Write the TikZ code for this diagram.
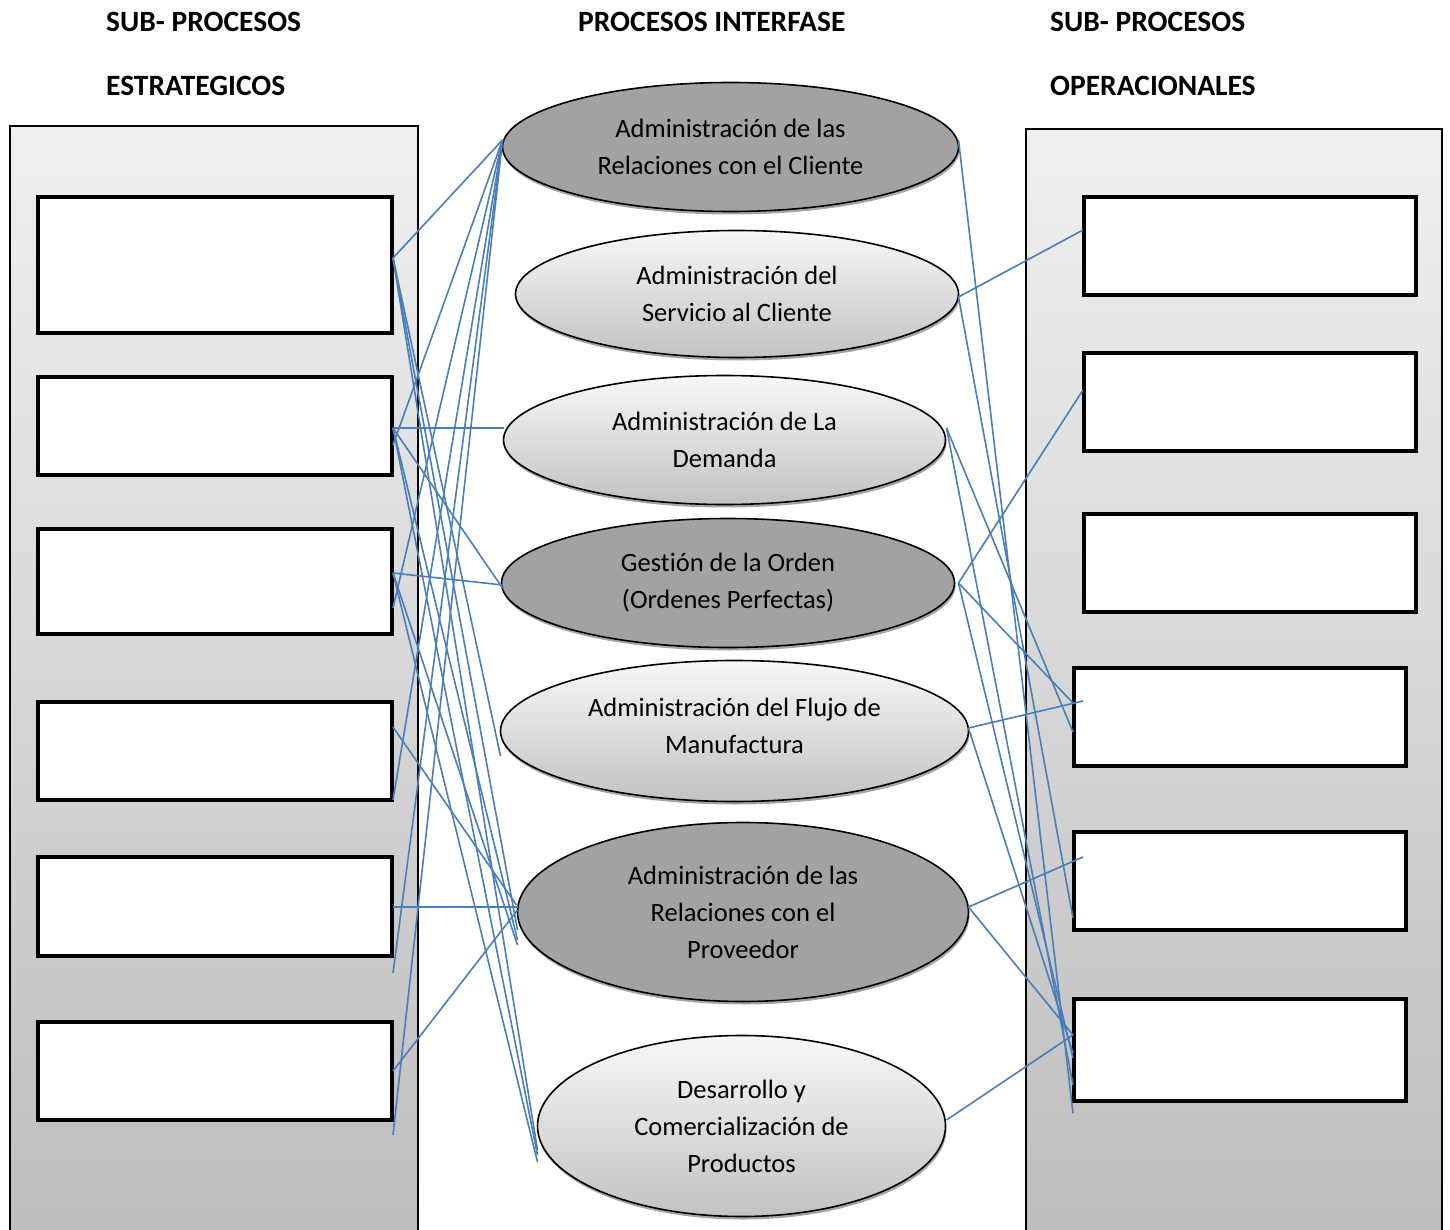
\documentclass[tikz,border=0pt]{standalone}
\usepackage{fontspec}
\setmainfont{Carlito}[Ligatures={NoCommon},RawFeature={-calt}]
\usetikzlibrary{calc,shapes.geometric,shadows}

\definecolor{linkblue}{HTML}{4A7EBB}
\definecolor{darkfill}{HTML}{A2A2A2}

\begin{document}
\begin{tikzpicture}[x=1pt,y=-1pt,
  panel/.style={draw=black,line width=2pt,top color=black!6,bottom color=black!26},
  subbox/.style={draw=black,line width=4.4pt,fill=white,inner sep=0pt,outer sep=0pt},
  proctext/.style={align=center,font=\fontsize{26.5}{37}\selectfont},
  proc/.style={ellipse,draw=black,line width=1.6pt,inner sep=0pt,outer sep=0pt,proctext,
    drop shadow={shadow xshift=1pt,shadow yshift=-3pt,opacity=0.5,fill=black!70}},
  darkproc/.style={proc,fill=darkfill},
  lightproc/.style={proc,top color=black!3,bottom color=black!24},
  head/.style={font=\bfseries\fontsize{29.5}{32}\selectfont,inner sep=0pt,anchor=base west},
  link/.style={draw=linkblue,line width=1.6pt}]

\useasboundingbox (0,0) rectangle (1450,1230);
\clip (0,0) rectangle (1450,1230);

% column headings
\node[head] (hl1) at (106,32) {SUB- PROCESOS};
\node[head] (hl2) at (106,96) {ESTRATEGICOS};
\node[head] (hc)  at (578,32) {PROCESOS INTERFASE};
\node[head] (hr1) at (1050,32) {SUB- PROCESOS};
\node[head] (hr2) at (1050,96) {OPERACIONALES};

% side panels
\path[panel] (10,126) rectangle (418,1245);
\path[panel] (1026,129) rectangle (1442,1245);

% strategic sub-process boxes
\node[subbox,minimum width=354pt,minimum height=136pt] (b1) at (215,265) {};
\node[subbox,minimum width=354pt,minimum height=98pt]  (b2) at (215,426) {};
\node[subbox,minimum width=354pt,minimum height=105pt] (b3) at (215,581.5) {};
\node[subbox,minimum width=354pt,minimum height=98pt]  (b4) at (215,751) {};
\node[subbox,minimum width=354pt,minimum height=99pt]  (b5) at (215,906.5) {};
\node[subbox,minimum width=354pt,minimum height=98pt]  (b6) at (215,1071) {};

% operational sub-process boxes
\node[subbox,minimum width=332pt,minimum height=98pt]  (r1) at (1250,246) {};
\node[subbox,minimum width=332pt,minimum height=98pt]  (r2) at (1250,402) {};
\node[subbox,minimum width=332pt,minimum height=98pt]  (r3) at (1250,563) {};
\node[subbox,minimum width=332pt,minimum height=98pt]  (r4) at (1240,717) {};
\node[subbox,minimum width=332pt,minimum height=98pt]  (r5) at (1240,881) {};
\node[subbox,minimum width=332pt,minimum height=102pt] (r6) at (1240,1050) {};

% interface processes
\node[darkproc,minimum width=456pt,minimum height=129pt] (e1) at (730.5,147)
  {Administración de las\\Relaciones con el Cliente};
\node[lightproc,minimum width=443pt,minimum height=127pt] (e2) at (737,294)
  {Administración del\\Servicio al Cliente};
\node[lightproc,minimum width=442pt,minimum height=129pt] (e3) at (724.5,440)
  {Administración de La\\Demanda};
\node[darkproc,minimum width=453pt,minimum height=129pt] (e4) at (728,583)
  {Gest\kern0pt ión de la Orden\\(Ordenes Perfectas)};
\node[lightproc,minimum width=468pt,minimum height=141pt,
  label={[proctext,yshift=5pt]center:Administración del Flujo de\\Manufactura}] (e5) at (734.5,731) {};
\node[darkproc,minimum width=451pt,minimum height=179pt] (e6) at (743,912)
  {Administración de las\\Relaciones con el\\Proveedor};
\node[lightproc,minimum width=408pt,minimum height=181pt] (e7) at (741.5,1126)
  {Desarrollo y\\Comercialización de\\Productos};

% links: strategic boxes to interface processes
\draw[link] ($(e1.west)+(0,-7)$) -- ($(b1.east)+(1,-7)$);
\draw[link] ($(e1.west)+(0,-7)$) -- ($(b2.east)+(1,19)$);
\draw[link] ($(e1.west)+(0,-7)$) -- ($(b3.east)+(1,26.5)$);
\draw[link] ($(e1.west)+(0,-7)$) -- ($(b4.east)+(1,49)$);
\draw[link] ($(e1.west)+(0,-7)$) -- ($(b5.east)+(1,66.5)$);
\draw[link] ($(e1.west)+(0,-7)$) -- ($(b6.east)+(1,64)$);
\draw[link] ($(b2.east)+(1,2)$) -- ($(e3.west)+(0,-12)$);
\draw[link] ($(b2.east)+(1,2)$) -- ($(e4.west)+(1,5)$);
\draw[link] ($(b3.east)+(1,-8.5)$) -- ($(e4.west)+(1,2)$);
\draw[link] ($(b1.east)+(1,-7)$) -- ($(e5.west)+(0,25)$);
\draw[link] ($(b1.east)+(1,-7)$) -- ($(e6.west)+(0,18)$);
\draw[link] ($(b1.east)+(1,-7)$) -- ($(e7.west)+(0,24)$);
\draw[link] ($(b2.east)+(1,2)$) -- ($(e6.west)+(0,28)$);
\draw[link] ($(b2.east)+(1,2)$) -- ($(e7.west)+(0,29)$);
\draw[link] ($(b3.east)+(1,-8.5)$) -- ($(e6.west)+(0,33)$);
\draw[link] ($(b3.east)+(1,-8.5)$) -- ($(e7.west)+(0,36)$);
\draw[link] ($(b4.east)+(1,-24)$) -- ($(e6.west)+(-1,-7)$);
\draw[link] ($(b5.east)+(1,0.5)$) -- ($(e6.west)+(0,-5)$);
\draw[link] ($(b6.east)+(1,0)$) -- ($(e6.west)+(0,-2)$);

% links: interface processes to operational boxes
\draw[link] ($(e1.east)+(0,-7)$) -- ($(r6.west)+(-1,63)$);
\draw[link] ($(e2.east)+(0,3)$) -- ($(r1.west)+(-1,-16)$);
\draw[link] ($(e2.east)+(0,3)$) -- ($(r5.west)+(-1,37)$);
\draw[link] ($(e3.east)+(1,-12)$) -- ($(r4.west)+(-1,15)$);
\draw[link] ($(e3.east)+(1,-12)$) -- ($(r6.west)+(-1,35)$);
\draw[link] ($(e4.east)+(4,0)$) -- ($(r2.west)+(-1,-12)$);
\draw[link] ($(e4.east)+(4,0)$) -- ($(r4.west)+(-1,-14)$);
\draw[link] ($(e4.east)+(4,0)$) -- ($(r6.west)+(-1,8)$);
\draw[link] ($(e5.east)+(0,-3)$) -- ($(r4.west)+(9,-16)$);
\draw[link] ($(e5.east)+(0,-3)$) -- ($(r6.west)+(-1,3)$);
\draw[link] ($(e6.east)+(0,-5)$) -- ($(r5.west)+(9,-24)$);
\draw[link] ($(e6.east)+(0,-5)$) -- ($(r6.west)+(-1,-15)$);
\draw[link] ($(e7.east)+(1,-6)$) -- ($(r6.west)+(-1,-15)$);

\end{tikzpicture}
\end{document}
